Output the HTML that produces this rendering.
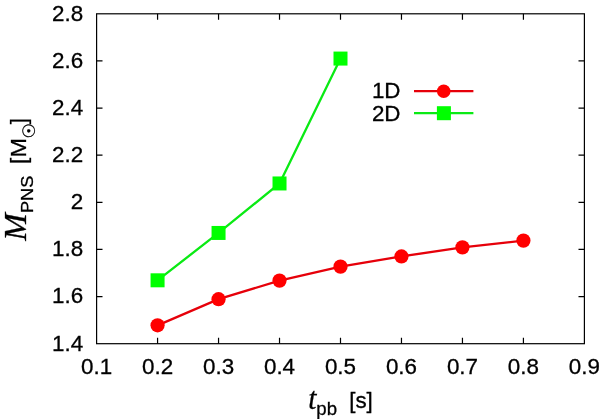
<!DOCTYPE html><html><head><meta charset="utf-8"><style>html,body{margin:0;padding:0;background:#fff}svg{display:block}text{font-family:"Liberation Sans",sans-serif;fill:#000;stroke:#000;stroke-width:0.3px}</style></head><body>
<svg width="600" height="419" viewBox="0 0 600 419">
<rect width="600" height="419" fill="#fff"/>
<path d="M157.57 343.7v-5.9M157.57 13.8v5.9M218.55 343.7v-5.9M218.55 13.8v5.9M279.52 343.7v-5.9M279.52 13.8v5.9M340.50 343.7v-5.9M340.50 13.8v5.9M401.47 343.7v-5.9M401.47 13.8v5.9M462.45 343.7v-5.9M462.45 13.8v5.9M523.42 343.7v-5.9M523.42 13.8v5.9M96.6 296.57h5.9M584.4 296.57h-5.9M96.6 249.44h5.9M584.4 249.44h-5.9M96.6 202.31h5.9M584.4 202.31h-5.9M96.6 155.19h5.9M584.4 155.19h-5.9M96.6 108.06h5.9M584.4 108.06h-5.9M96.6 60.93h5.9M584.4 60.93h-5.9" stroke="#000" stroke-width="1.2" fill="none"/>
<rect x="96.6" y="13.8" width="487.79999999999995" height="329.9" fill="none" stroke="#000" stroke-width="1.2"/>
<text x="96.60" y="373.7" font-size="22.4" text-anchor="middle">0.1</text>
<text x="157.57" y="373.7" font-size="22.4" text-anchor="middle">0.2</text>
<text x="218.55" y="373.7" font-size="22.4" text-anchor="middle">0.3</text>
<text x="279.52" y="373.7" font-size="22.4" text-anchor="middle">0.4</text>
<text x="340.50" y="373.7" font-size="22.4" text-anchor="middle">0.5</text>
<text x="401.47" y="373.7" font-size="22.4" text-anchor="middle">0.6</text>
<text x="462.45" y="373.7" font-size="22.4" text-anchor="middle">0.7</text>
<text x="523.42" y="373.7" font-size="22.4" text-anchor="middle">0.8</text>
<text x="584.40" y="373.7" font-size="22.4" text-anchor="middle">0.9</text>
<text x="83.1" y="350.60" font-size="22.4" text-anchor="end">1.4</text>
<text x="83.1" y="303.47" font-size="22.4" text-anchor="end">1.6</text>
<text x="83.1" y="256.34" font-size="22.4" text-anchor="end">1.8</text>
<text x="83.1" y="209.21" font-size="22.4" text-anchor="end">2</text>
<text x="83.1" y="162.09" font-size="22.4" text-anchor="end">2.2</text>
<text x="83.1" y="114.96" font-size="22.4" text-anchor="end">2.4</text>
<text x="83.1" y="67.83" font-size="22.4" text-anchor="end">2.6</text>
<text x="83.1" y="20.70" font-size="22.4" text-anchor="end">2.8</text>
<polyline fill="none" stroke="#0aea14" stroke-width="2.3" points="157.57,280.31 218.55,232.95 279.52,183.46 340.50,58.57"/>
<polyline fill="none" stroke="#e6000a" stroke-width="2.3" points="157.57,325.32 218.55,299.16 279.52,280.62 340.50,266.64 401.47,256.44 462.45,247.37 523.42,240.61"/>
<rect x="150.57" y="273.31" width="14" height="14" fill="#00ff00"/>
<rect x="211.55" y="225.95" width="14" height="14" fill="#00ff00"/>
<rect x="272.52" y="176.46" width="14" height="14" fill="#00ff00"/>
<rect x="333.50" y="51.57" width="14" height="14" fill="#00ff00"/>
<circle cx="157.57" cy="325.32" r="7.1" fill="#ff0000"/>
<circle cx="218.55" cy="299.16" r="7.1" fill="#ff0000"/>
<circle cx="279.52" cy="280.62" r="7.1" fill="#ff0000"/>
<circle cx="340.50" cy="266.64" r="7.1" fill="#ff0000"/>
<circle cx="401.47" cy="256.44" r="7.1" fill="#ff0000"/>
<circle cx="462.45" cy="247.37" r="7.1" fill="#ff0000"/>
<circle cx="523.42" cy="240.61" r="7.1" fill="#ff0000"/>
<text x="400.5" y="98.3" font-size="22.4" text-anchor="end">1D</text>
<text x="400.5" y="120.9" font-size="22.4" text-anchor="end">2D</text>
<path d="M414 91.2h59.4" stroke="#e6000a" stroke-width="2.3"/><circle cx="443.7" cy="91.3" r="6.8" fill="#ff0000"/>
<path d="M414 113.2h59.4" stroke="#0aea14" stroke-width="2.3"/><rect x="436.9" y="106.2" width="14" height="14" fill="#00ff00"/>
<text transform="translate(308.2,408.6) scale(0.93,1)" font-size="31.7" style="font-family:'Liberation Serif',serif;font-style:italic">t</text>
<text transform="translate(316.3,414.6) scale(1,1)" font-size="18.6" >pb</text>
<text transform="translate(349.2,407.5) scale(1,1)" font-size="22.4" >[s]</text>
<text transform="translate(26.2,240.8) rotate(-90) scale(1.064,1)" font-size="31" style="font-family:'Liberation Serif',serif;font-style:italic">M</text>
<text transform="translate(33.3,213) rotate(-90) scale(1.1,1)" font-size="16.5" >PNS</text>
<text transform="translate(26.4,164) rotate(-90) scale(1,1)" font-size="22.4" >[</text>
<text transform="translate(26.4,157.6) rotate(-90) scale(1.045,1)" font-size="22.4" >M</text>
<text transform="translate(35.2,138.6) rotate(-90) scale(1,1)" font-size="17.3" style="font-family:'DejaVu Sans',sans-serif">☉</text>
<text transform="translate(26.4,124.2) rotate(-90) scale(1,1)" font-size="22.4" >]</text>
</svg></body></html>
